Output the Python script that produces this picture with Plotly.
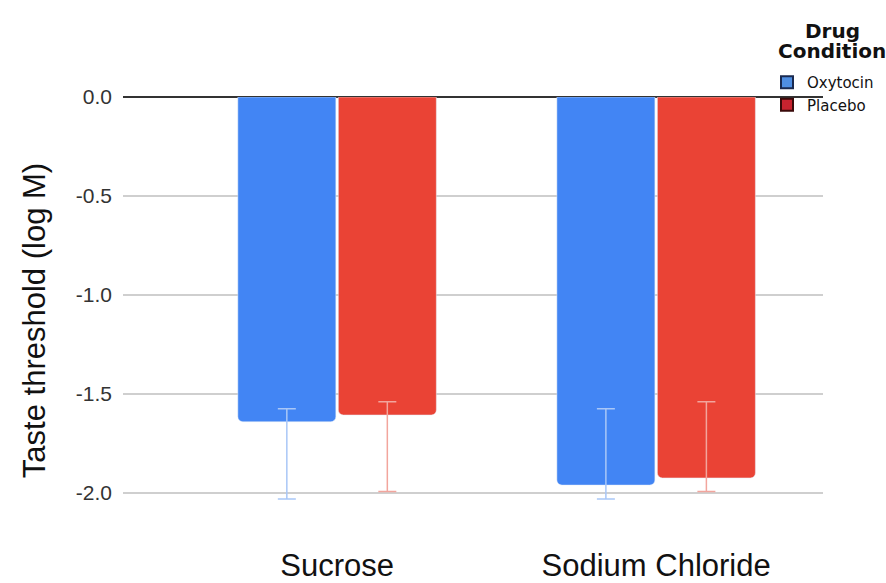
import plotly.graph_objects as go

categories = ["Sucrose", "Sodium Chloride"]
oxytocin_mean = [-1.64, -1.96]
placebo_mean = [-1.606, -1.924]
oxytocin_err_top = [-1.574, -1.574]
oxytocin_err_bottom = [-2.03, -2.03]
placebo_err_top = [-1.539, -1.539]
placebo_err_bottom = [-1.993, -1.993]
y_tick_vals = [0.0, -0.5, -1.0, -1.5, -2.0]
y_tick_text = ["0.0", "-0.5", "-1.0", "-1.5", "-2.0"]

BLUE = "#4285F4"
RED = "#EA4335"
BLUE_ERR = "#a9c7f7"
RED_ERR = "#f2a59d"


def err(mean, top, bottom):
    plus = [t - m for m, t in zip(mean, top)]
    minus = [m - b for m, b in zip(mean, bottom)]
    return plus, minus


ox_plus, ox_minus = err(oxytocin_mean, oxytocin_err_top, oxytocin_err_bottom)
pl_plus, pl_minus = err(placebo_mean, placebo_err_top, placebo_err_bottom)

fig = go.Figure()
fig.add_trace(go.Bar(
    x=categories, y=oxytocin_mean, name="Oxytocin", showlegend=False,
    marker=dict(color=BLUE, cornerradius=5),
    error_y=dict(type="data", symmetric=False, array=ox_plus, arrayminus=ox_minus,
                 color=BLUE_ERR, thickness=1.5, width=9),
))
fig.add_trace(go.Bar(
    x=categories, y=placebo_mean, name="Placebo", showlegend=False,
    marker=dict(color=RED, cornerradius=5),
    error_y=dict(type="data", symmetric=False, array=pl_plus, arrayminus=pl_minus,
                 color=RED_ERR, thickness=1.5, width=9),
))
# legend entries
fig.add_trace(go.Scatter(x=[None], y=[None], mode="markers", name="Oxytocin",
                         marker=dict(symbol="square", size=14, color="#4f8fe3",
                                     line=dict(color="#1a2a50", width=1))))
fig.add_trace(go.Scatter(x=[None], y=[None], mode="markers", name="Placebo",
                         marker=dict(symbol="square", size=14, color="#c8232f",
                                     line=dict(color="#3a0a0a", width=1))))

M_L, M_R, M_T, M_B = 123, 63, 97, 39
PLOT_W = 886 - M_L - M_R
PLOT_H = 583 - M_T - M_B
PX_PER_UNIT = 198

fig.update_layout(
    width=886, height=583,
    margin=dict(l=M_L, r=M_R, t=M_T, b=M_B, autoexpand=False),
    paper_bgcolor="white", plot_bgcolor="white",
    barmode="group", bargap=0.37, bargroupgap=0.025,
    font=dict(family="Liberation Sans, Arial, sans-serif"),
    xaxis=dict(type="category", range=[-0.671, 1.523], showgrid=False,
               showline=False, ticks="", tickfont=dict(size=31, color="#111")),
    yaxis=dict(range=[-PLOT_H / PX_PER_UNIT, 0.0], tickvals=y_tick_vals, ticktext=y_tick_text,
               showgrid=True, gridcolor="#cfcfcf", gridwidth=1.5,
               zeroline=True, zerolinecolor="#333333", zerolinewidth=1.5,
               showline=False, ticks="", ticklabelstandoff=10,
               tickfont=dict(size=21, color="#333"),
               title=dict(text="Taste threshold (log M)", font=dict(size=31, color="#111"),
                          standoff=20)),
    legend=dict(x=(767 - M_L) / PLOT_W, y=1 + (M_T - 66) / PLOT_H,
                xanchor="left", yanchor="top",
                bgcolor="rgba(0,0,0,0)", itemsizing="constant",
                font=dict(family="DejaVu Sans, sans-serif", size=15, color="#111"),
                tracegroupgap=0, itemwidth=30),
    annotations=[
        dict(text="<b>Drug</b>", xref="paper", yref="paper",
             x=(832 - M_L) / PLOT_W, y=1 + (M_T - 31) / PLOT_H,
             xanchor="center", yanchor="middle", showarrow=False,
             font=dict(family="DejaVu Sans, sans-serif", size=20, color="#111")),
        dict(text="<b>Condition</b>", xref="paper", yref="paper",
             x=(832 - M_L) / PLOT_W, y=1 + (M_T - 51) / PLOT_H,
             xanchor="center", yanchor="middle", showarrow=False,
             font=dict(family="DejaVu Sans, sans-serif", size=20, color="#111")),
    ],
)

fig.write_html("out.html", config={"displayModeBar": False},
               post_script="document.body.style.margin='0';document.body.style.overflow='hidden';")
